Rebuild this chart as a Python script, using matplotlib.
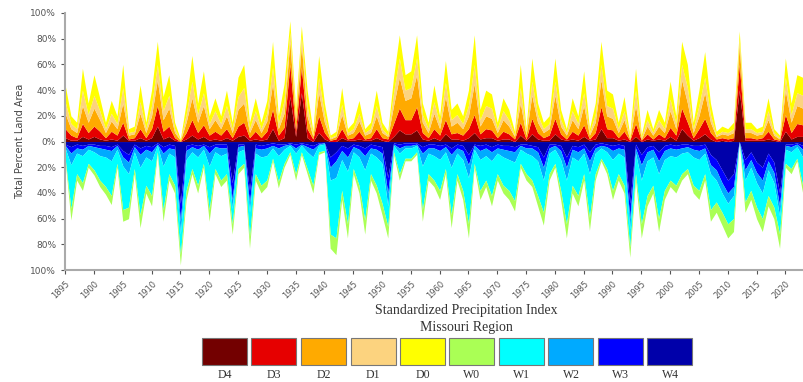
import matplotlib.pyplot as plt
import numpy as np
from matplotlib.patches import Rectangle
from matplotlib.ticker import FuncFormatter

years = np.arange(1895, 2024)

# drought, cumulative coverage (% of land): D0+ (top) ... D4 (bottom)
d0 = [44,20,15,57,30,52,34,15,32,20, 60,10,12,44,15,40,78,35,52,15,
      2,30,67,30,55,20,34,20,40,15, 50,60,15,34,15,32,78,20,45,94,
      26,90,40,8,67,30,5,8,42,10, 15,32,10,15,40,15,8,50,83,52,
      55,83,30,15,44,20,63,25,30,20, 40,83,25,40,37,15,34,25,8,60,
      10,65,30,15,20,65,25,10,34,20, 55,10,30,78,40,37,15,35,5,57,
      5,25,10,25,15,47,20,78,60,15, 40,70,30,8,12,10,15,86,15,15,
      10,12,34,10,5,65,30,52,50]
d1 = [31,14,10,40,21,36,24,10,22,14, 42,7,8,31,10,28,60,24,36,10,
      1,21,47,21,38,14,24,14,28,10, 35,42,10,24,10,22,58,14,32,85,
      20,82,28,5,50,21,3,5,29,7, 10,22,7,10,28,10,5,38,65,40,
      42,65,21,10,31,14,46,17,21,14, 28,60,17,28,26,10,24,17,5,42,
      7,47,21,10,14,47,17,7,24,14, 38,7,21,60,28,26,10,24,3,40,
      3,17,7,17,10,33,14,60,42,10, 28,50,21,5,8,7,10,80,10,10,
      7,8,24,7,3,50,21,38,36]
d2 = [22,10,7,28,15,26,17,7,16,10, 30,5,6,22,7,20,48,17,26,7,
      1,15,34,15,28,10,17,10,20,7, 25,30,7,17,7,16,45,10,22,78,
      16,75,20,4,38,15,2,4,21,5, 7,16,5,7,20,7,4,28,50,32,
      34,52,15,7,22,10,35,12,15,10, 20,45,12,20,18,7,17,12,4,30,
      5,36,15,7,10,36,12,5,17,10, 28,5,15,48,20,18,7,17,2,28,
      2,12,5,12,7,24,10,48,30,7, 20,38,15,4,6,5,7,75,7,7,
      5,6,17,5,2,40,15,28,26]
d3 = [10,5,3,14,7,12,8,3,8,5, 15,2,3,10,3,10,28,8,12,3,
      0,7,17,7,13,5,8,5,10,3, 12,15,3,8,3,8,25,5,11,60,
      8,58,10,2,20,7,1,2,10,2, 3,8,2,3,10,3,2,14,26,17,
      17,27,7,3,10,5,17,6,7,5, 10,21,6,10,9,3,8,6,2,15,
      2,18,7,3,5,18,6,2,8,5, 13,2,7,27,10,9,3,8,1,14,
      1,6,2,6,3,11,5,26,15,3, 10,18,7,2,3,2,3,60,3,3,
      2,3,8,2,1,21,7,14,13]
d4 = [3,1,1,4,2,4,2,1,2,1, 5,1,1,3,1,3,12,2,4,1,
      0,2,5,2,4,1,2,1,3,1, 4,5,1,2,1,2,10,1,3,35,
      4,38,3,0,7,2,0,0,3,1, 1,2,1,1,3,1,0,4,9,6,
      6,9,2,1,3,1,6,2,2,1, 3,7,2,3,3,1,2,2,0,5,
      1,6,2,1,1,6,2,1,2,1, 4,1,2,10,3,3,1,2,0,4,
      0,2,1,2,1,4,1,10,5,1, 3,6,2,0,1,0,1,40,1,1,
      1,1,2,1,0,8,2,4,4]

# wet, cumulative coverage: W0+ (outer) ... W4 (next to zero)
w0 = [15,61,30,38,20,26,35,41,49,20, 62,60,25,67,40,50,10,62,30,40,
      96,45,25,40,20,62,25,35,30,72, 25,20,83,30,40,35,15,36,20,10,
      30,10,25,40,10,8,83,88,45,75, 25,40,72,30,40,57,75,10,30,15,
      15,10,62,30,35,45,25,67,30,45, 75,20,45,35,50,30,40,45,54,20,
      30,35,50,65,30,20,45,75,40,50, 30,69,30,15,25,45,30,40,90,30,
      75,50,40,70,45,35,40,30,25,40, 45,30,62,55,65,75,70,0,55,45,
      60,70,50,60,83,20,25,15,40]
w1 = [13,52,25,32,17,22,30,35,42,17, 53,51,21,57,34,42,8,53,25,34,
      88,38,21,34,17,53,21,30,25,64, 21,17,74,25,34,30,13,31,17,8,
      25,8,21,34,8,7,72,75,38,64, 21,34,61,25,34,48,66,8,25,13,
      13,8,53,25,30,38,21,57,25,38, 64,17,38,30,42,25,34,38,46,17,
      25,30,42,55,25,17,38,64,34,42, 25,59,25,13,21,38,25,34,82,25,
      64,42,34,60,38,30,34,25,21,34, 38,25,53,47,55,64,60,0,47,38,
      51,60,42,51,72,17,21,13,34]
w2 = [5,18,9,11,6,8,11,12,15,6, 19,25,8,20,12,15,3,19,9,12,
      72,14,8,12,6,19,8,11,9,52, 8,6,55,9,12,11,5,11,6,3,
      9,3,8,12,3,2,30,28,14,23, 8,12,22,9,12,17,50,3,9,5,
      5,3,19,9,11,14,8,20,9,14, 28,6,14,11,15,9,12,14,16,6,
      9,11,15,30,9,6,14,30,12,15, 9,25,9,5,8,14,9,12,68,9,
      30,15,12,25,14,11,12,9,8,12, 14,9,25,30,40,48,42,0,30,20,
      32,40,22,32,58,6,8,4,12]
w3 = [3,9,5,6,3,4,5,6,7,3, 12,16,4,10,6,8,2,9,5,6,
      62,7,4,6,3,9,4,5,5,45, 4,3,48,5,6,5,3,5,3,2,
      5,2,4,6,2,1,20,15,7,12, 4,6,11,5,6,9,40,2,5,3,
      3,2,9,5,5,7,4,10,5,7, 18,3,7,5,8,5,6,7,8,3,
      5,5,8,20,5,3,7,20,6,8, 5,15,5,3,4,7,5,6,60,5,
      18,8,6,15,7,5,6,5,4,6, 7,5,18,22,32,40,35,0,22,14,
      24,30,15,24,50,3,4,2,6]
w4 = [2,4,2,3,2,2,3,3,4,2, 7,10,2,5,3,4,1,4,2,3,
      48,3,2,3,2,4,2,2,2,32, 2,2,38,2,3,2,1,2,2,1,
      2,1,2,3,1,1,12,8,3,5, 2,3,5,2,3,4,28,1,2,1,
      1,1,4,2,2,3,2,5,2,3, 10,2,3,2,4,2,3,3,4,2,
      2,3,4,12,2,2,3,12,3,4, 2,8,2,1,2,3,2,3,48,2,
      10,4,3,8,3,2,3,2,2,3, 3,2,10,14,22,30,25,0,14,8,
      16,20,9,16,40,2,2,1,3]

cat_labels = ['D4', 'D3', 'D2', 'D1', 'D0', 'W0', 'W1', 'W2', 'W3', 'W4']
cat_colors = ['#730000', '#e60000', '#ffaa00', '#fcd37f', '#ffff00',
              '#aaff55', '#00ffff', '#00aaff', '#0000ff', '#0000aa']

fig = plt.figure(figsize=(8.04, 3.82), dpi=100)
ax = fig.add_axes([0.081, 0.293, 0.918, 0.673])

x = years.astype(float)
zero = np.zeros(len(years))
# drought stack, from zero upwards: D4, D3, D2, D1, D0
dry = [zero, d4, d3, d2, d1, d0]
for i in range(5):
    ax.fill_between(x, dry[i], dry[i + 1], color=cat_colors[i], lw=0)
# wet stack, from zero downwards: W4, W3, W2, W1, W0
wet = [zero, w4, w3, w2, w1, w0]
for i in range(5):
    ax.fill_between(x, -np.array(wet[i]), -np.array(wet[i + 1]),
                    color=cat_colors[9 - i], lw=0)

ax.set_xlim(1895, 2023.1)
ax.set_ylim(-100, 100)
ax.set_yticks(np.arange(-100, 101, 20))
ax.yaxis.set_major_formatter(FuncFormatter(lambda v, p: '%d%%' % abs(v)))
ax.set_xticks(np.arange(1895, 2021, 5))
ax.tick_params(axis='x', labelrotation=45, labelsize=6, colors='#555555', length=3)
ax.tick_params(axis='y', labelsize=6.5, colors='#555555', length=3)
for lab in ax.get_xticklabels():
    lab.set_ha('right')
    lab.set_rotation_mode('anchor')
for s in ['top', 'right']:
    ax.spines[s].set_visible(False)
for s in ['left', 'bottom']:
    ax.spines[s].set_color('#aaaaaa')
    ax.spines[s].set_linewidth(1.5)
ax.set_ylabel('Total Percent Land Area', fontsize=7, color='#444444')

fig.text(0.58, 0.188, 'Standardized Precipitation Index', ha='center', va='center',
         family='Liberation Serif', fontsize=10, color='#333333')
fig.text(0.58, 0.143, 'Missouri Region', ha='center', va='center',
         family='Liberation Serif', fontsize=10, color='#333333')

# colour key boxes
bx0 = 202 / 804
bw = 45 / 804
pitch = 49.5 / 804
for i in range(10):
    fig.patches.append(Rectangle((bx0 + i * pitch, 1 - 365 / 382), bw, 27 / 382,
                                 transform=fig.transFigure, facecolor=cat_colors[i],
                                 edgecolor='#777777', lw=0.8))
    fig.text(bx0 + i * pitch + bw / 2, 1 - 374.5 / 382, cat_labels[i], ha='center',
             va='center', family='Liberation Serif', fontsize=8.5, color='#333333')

fig.savefig('out.png', dpi=100)
